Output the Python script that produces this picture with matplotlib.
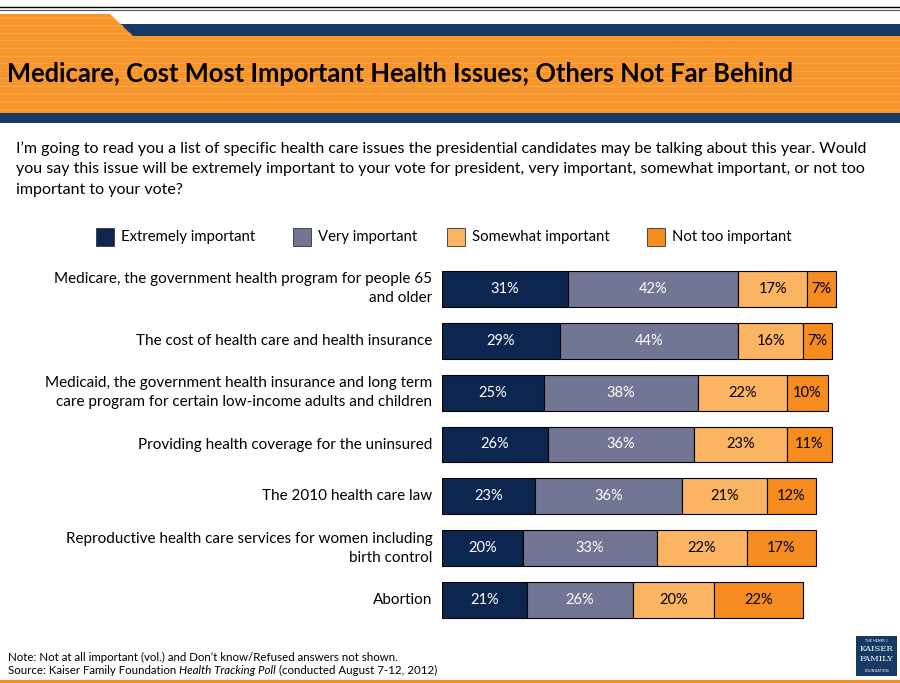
import matplotlib
matplotlib.use("Agg")
import matplotlib.pyplot as plt
from matplotlib.patches import Rectangle, Polygon

# ---- data ----
issues = [
    "Medicare, the government health program for people 65\nand older",
    "The cost of health care and health insurance",
    "Medicaid, the government health insurance and long term\ncare program for certain low-income adults and children",
    "Providing health coverage for the uninsured",
    "The 2010 health care law",
    "Reproductive health care services for women including\nbirth control",
    "Abortion",
]
extremely = [31, 29, 25, 26, 23, 20, 21]
very = [42, 44, 38, 36, 36, 33, 26]
somewhat = [17, 16, 22, 23, 21, 22, 20]
not_too = [7, 7, 10, 11, 12, 17, 22]
series_names = ["Extremely important", "Very important", "Somewhat important", "Not too important"]

title = "Medicare, Cost Most Important Health Issues; Others Not Far Behind"
question = ("I\u2019m going to read you a list of specific health care issues the presidential candidates may be talking about this year. Would\n"
            "you say this issue will be extremely important to your vote for president, very important, somewhat important, or not too\n"
            "important to your vote?")
note = "Note: Not at all important (vol.) and Don\u2019t know/Refused answers not shown."
source_a = "Source: Kaiser Family Foundation "
source_b = "Health Tracking Poll"
source_c = " (conducted August 7-12, 2012)"

# ---- style ----
NAVY = "#0D2650"
GRAY = "#737594"
LIGHT = "#FBB462"
ORANGE = "#F68B1F"
HEAD_OR = "#F7962C"
HEAD_NAVY = "#173A64"
colors = [NAVY, GRAY, LIGHT, ORANGE]
text_colors = ["white", "white", "black", "black"]
FONT = "Lato"
plt.rcParams["font.family"] = [FONT, "DejaVu Sans"]

W, H = 900, 683
fig = plt.figure(figsize=(W / 100, H / 100), dpi=100)
bg = fig.add_axes([0, 0, 1, 1])
bg.set_xlim(0, W)
bg.set_ylim(H, 0)
bg.axis("off")

# ---- header ----
bg.plot([0, W], [7, 7], color="black", lw=1.0)
bg.plot([0, W], [9.5, 9.5], color="#555555", lw=0.8)
bg.add_patch(Rectangle((120, 24), W - 120, 12, color=HEAD_NAVY, lw=0))
bg.add_patch(Polygon([(0, 14), (110, 14), (133, 36), (W, 36), (W, 113), (0, 113)],
                     closed=True, color=HEAD_OR, lw=0))
y = 17.5
while y < 112:
    x1 = W if y > 36 else 110 + (y - 14) * 23 / 22
    bg.plot([0, x1], [y, y], color="#F9AC58", lw=0.9, alpha=0.7)
    y += 7.6
bg.add_patch(Rectangle((0, 113), W, 10, color=HEAD_NAVY, lw=0))
bg.text(7, 74, title, fontsize=18.4, fontweight="bold", color="black",
        va="center", ha="left")

# ---- question ----
bg.text(16, 169, question, fontsize=11.5, va="center", ha="left",
        linespacing=1.62, color="black")

# ---- legend ----
leg_boxes = [96, 293, 447, 647]
for name, c, bx in zip(series_names, colors, leg_boxes):
    bg.add_patch(Rectangle((bx, 228), 18, 18, facecolor=c, edgecolor="#333333", lw=0.6))
    bg.text(bx + 25, 237.5, name, fontsize=10.7, va="center", ha="left")

# ---- bars ----
x_left, px_per = 442, 4.06
top, bottom = 263, 626
ax = fig.add_axes([x_left / W, 1 - bottom / H, 100 * px_per / W, (bottom - top) / H])
ax.set_xlim(0, 100)
ax.set_ylim(len(issues) - 0.5, -0.5)
ax.axis("off")
ypos = list(range(len(issues)))
left = [0] * len(issues)
for vals, c, tc in zip([extremely, very, somewhat, not_too], colors, text_colors):
    ax.barh(ypos, vals, left=left, height=0.69, color=c, edgecolor="black", linewidth=0.8)
    for i, v in enumerate(vals):
        ax.text(left[i] + v / 2, i, f"{v}%", ha="center", va="center",
                fontsize=10.5, color=tc)
    left = [l + v for l, v in zip(left, vals)]

for i, lab in enumerate(issues):
    ax.text(-2.4, i, lab, ha="right", va="center", fontsize=10.95,
            linespacing=1.45, transform=ax.transData)

# ---- footer ----
FS = 8.3
bg.text(8, 657, note, fontsize=FS, va="center", ha="left")
fig.canvas.draw()
r = fig.canvas.get_renderer()
t1 = bg.text(8, 670, source_a, fontsize=FS, va="center", ha="left")
bb = t1.get_window_extent(renderer=r)
inv = bg.transData.inverted()
x_after = inv.transform((bb.x1, bb.y0))[0]
t2 = bg.text(x_after, 670, source_b, fontsize=FS, va="center", ha="left", style="italic")
bb2 = t2.get_window_extent(renderer=r)
x_after2 = inv.transform((bb2.x1, bb2.y0))[0]
bg.text(x_after2, 670, source_c, fontsize=FS, va="center", ha="left")
bg.plot([0, W], [680.5, 680.5], color=ORANGE, lw=2.2)

# logo block
bg.add_patch(Rectangle((856, 636), 41, 40, color=HEAD_NAVY, lw=0))
bg.text(876.5, 640.5, "THE HENRY J.", fontsize=2.6, color="white", ha="center", va="center")
bg.text(876.5, 649, "KAISER", fontsize=6, color="white", ha="center", va="center", family="DejaVu Serif")
bg.text(876.5, 659, "FAMILY", fontsize=6, color="white", ha="center", va="center", family="DejaVu Serif")
bg.text(876.5, 670.5, "FOUNDATION", fontsize=2.6, color="white", ha="center", va="center")

fig.savefig("out.png", dpi=100)
